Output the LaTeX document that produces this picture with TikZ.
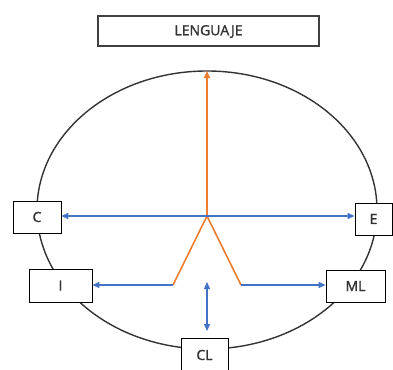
\documentclass[tikz,border=0pt]{standalone}
\usepackage{fontspec}
\setmainfont{Open Sans}[FakeBold=1.5]
\usetikzlibrary{arrows.meta}
\definecolor{relblue}{RGB}{68,114,196}
\definecolor{reforange}{RGB}{237,125,49}

\begin{document}
\begin{tikzpicture}[x=1pt, y=-1pt, font=\fontsize{14}{16}\selectfont,
  box/.style={draw, fill=white, line width=0.8pt, inner sep=0pt, text=black!80},
  rel/.style={relblue, line width=1.3pt, -{Triangle[length=7pt,width=6pt]}},
  org/.style={reforange, line width=1.6pt}]
\useasboundingbox (0,0) rectangle (393,369);
\draw[black!80, line width=1.4pt] (207,210) ellipse [x radius=170, y radius=139];
\coordinate (hub) at (207,216);
\coordinate (top) at (207,71);
\coordinate (lfoot) at (173,285);
\coordinate (rfoot) at (241,285);
\coordinate (up) at (207,282);
\coordinate (down) at (207,331);
\node[box, minimum width=221, minimum height=30, draw=black!75, line width=2pt] (leng) at (208.5,31.5) {LENGUAJE};
\node[box, minimum width=48, minimum height=32] (c) at (37,217) {C};
\node[box, minimum width=63, minimum height=33] (i) at (60.5,285.5) {I};
\node[box, minimum width=37, minimum height=32] (e) at (373.5,219) {E};
\node[box, minimum width=59, minimum height=32] (ml) at (355.5,286) {ML};
\node[box, minimum width=47, minimum height=34] (cl) at (204.5,355) {CL};
% orange stem and legs
\draw[org, -{Triangle[length=7pt,width=6pt]}] (hub) -- (top);
\draw[org] (lfoot) -- (hub) -- (rfoot);
% blue relations
\draw[rel] (hub) -- (hub -| c.east);
\draw[rel] (hub) -- (hub -| e.west);
\draw[rel] (lfoot) -- (lfoot -| i.east);
\draw[rel] (rfoot) -- (rfoot -| ml.west);
\draw[rel, {Triangle[length=7pt,width=6pt]}-{Triangle[length=7pt,width=6pt]}] (up) -- (down);
\end{tikzpicture}
\end{document}
